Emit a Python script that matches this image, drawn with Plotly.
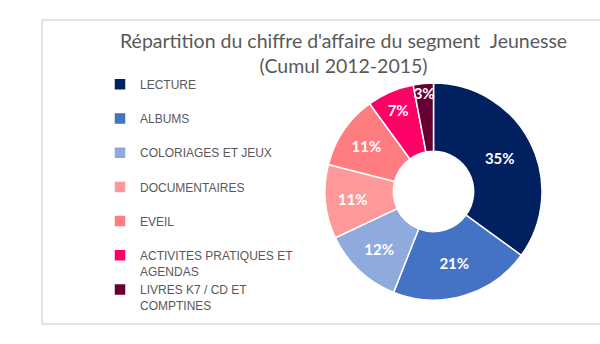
import plotly.graph_objects as go

labels = ["LECTURE", "ALBUMS", "COLORIAGES ET JEUX", "DOCUMENTAIRES", "EVEIL",
          "ACTIVITES PRATIQUES ET<br>AGENDAS", "LIVRES K7 / CD ET<br>COMPTINES"]
values = [35, 21, 12, 11, 11, 7, 3]
colors = ["#002060", "#4472C4", "#8FAADC", "#FF9999", "#FF7C80", "#FF0066", "#660033"]
title_text = "Répartition du chiffre d'affaire du segment  Jeunesse<br>(Cumul 2012-2015)"

W, H = 600, 344
legend_labels = [l if "<br>" in l else l + "<br> " for l in labels]

fig = go.Figure(go.Pie(
    labels=legend_labels,
    values=values,
    sort=False,
    direction="clockwise",
    rotation=0,
    hole=0.37,
    marker=dict(colors=colors, line=dict(color="white", width=1.5)),
    textinfo="percent",
    texttemplate="%{percent:.0%}",
    textposition="inside",
    insidetextorientation="horizontal",
    textfont=dict(family="Lato", size=15, color="white", weight="bold"),
    domain=dict(x=[325 / W, 542 / W], y=[1 - 300 / H, 1 - 83 / H]),
    hoverinfo="label+percent",
))

fig.update_layout(
    width=W, height=H,
    margin=dict(l=0, r=0, t=0, b=0),
    paper_bgcolor="white",
    plot_bgcolor="white",
    font=dict(family="Lato", color="#595959"),
    uniformtext=dict(minsize=15, mode="show"),
    annotations=[dict(text=title_text, x=343 / W, xanchor="center", xref="paper",
                      y=1 - 53 / H, yanchor="middle", yref="paper", showarrow=False,
                      font=dict(family="Lato", size=19.5, color="#595959"))],
    legend=dict(x=100 / W, y=1 - 70 / H, xanchor="left", yanchor="top",
                valign="top", font=dict(family="Liberation Sans", size=12, color="#595959"),
                bgcolor="rgba(0,0,0,0)", itemclick=False, itemdoubleclick=False),
    shapes=[dict(type="rect", xref="paper", yref="paper",
                 x0=42 / W, x1=1.02, y0=1 - 324 / H, y1=1 - 20 / H,
                 line=dict(color="#D9D9D9", width=1.5), fillcolor="rgba(0,0,0,0)")],
)

fig.write_html("out.html")
